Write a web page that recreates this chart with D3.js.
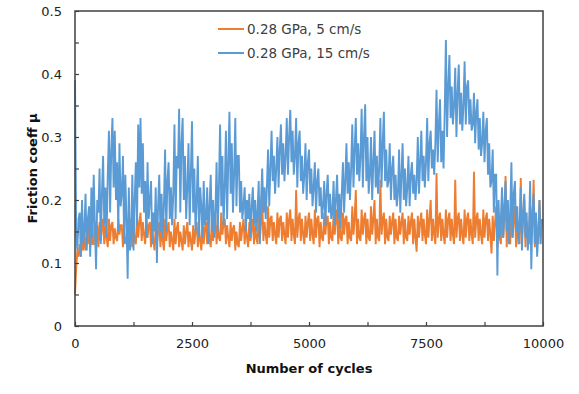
<!DOCTYPE html>
<html>
<head>
<meta charset="utf-8">
<script src="https://cdn.jsdelivr.net/npm/d3@7"></script>
<style>
  html, body { margin: 0; padding: 0; background: #fff; }
  svg { display: block; }
</style>
</head>
<body>
<svg id="chart" width="579" height="394"></svg>
<script>
// ---- data (one value every 25 cycles) ----
const stepCycles = 25;
const seriesNames = ["0.28 GPa, 5 cm/s", "0.28 GPa, 15 cm/s"];
const xTickLabels = [0, 2500, 5000, 7500, 10000];
const yTickLabels = [0, 0.1, 0.2, 0.3, 0.4, 0.5];

// 0.28 GPa, 15 cm/s (blue)
const blueVals = [
0.39,0.15,0.12,0.17, 0.18,0.11,0.20,0.13, 0.15,0.21,0.12,0.17, 0.19,0.11,0.22,0.14, 0.24,0.16,0.09,0.20,
0.18,0.25,0.13,0.21, 0.27,0.16,0.22,0.14, 0.24,0.31,0.18,0.28, 0.33,0.22,0.31,0.20, 0.26,0.15,0.29,0.19,
0.21,0.27,0.13,0.24, 0.17,0.075,0.22,0.12, 0.14,0.24,0.12,0.20, 0.26,0.16,0.32,0.22, 0.33,0.21,0.29,0.18,
0.23,0.14,0.26,0.17, 0.20,0.23,0.13,0.18, 0.15,0.22,0.10,0.19, 0.24,0.15,0.21,0.14, 0.19,0.28,0.15,0.23,
0.26,0.17,0.22,0.16, 0.21,0.32,0.17,0.27, 0.25,0.345,0.18,0.29, 0.33,0.20,0.27,0.17, 0.22,0.29,0.16,0.24,
0.325,0.18,0.25,0.15, 0.20,0.27,0.14,0.22, 0.19,0.14,0.23,0.16, 0.17,0.22,0.13,0.19, 0.24,0.15,0.20,0.14,
0.18,0.26,0.15,0.22, 0.32,0.19,0.27,0.16, 0.22,0.31,0.17,0.26, 0.34,0.21,0.29,0.18, 0.24,0.33,0.19,0.27,
0.27,0.18,0.23,0.17, 0.19,0.22,0.15,0.20, 0.17,0.21,0.14,0.19, 0.22,0.16,0.20,0.15, 0.18,0.23,0.13,0.20,
0.25,0.18,0.22,0.17, 0.22,0.28,0.19,0.25, 0.31,0.23,0.27,0.21, 0.25,0.30,0.22,0.28, 0.32,0.24,0.29,0.23,
0.27,0.33,0.24,0.30, 0.343,0.26,0.31,0.24, 0.27,0.33,0.22,0.29, 0.31,0.23,0.27,0.21, 0.24,0.29,0.20,0.26,
0.28,0.21,0.25,0.19, 0.22,0.26,0.18,0.23, 0.25,0.19,0.22,0.17, 0.19,0.23,0.16,0.21, 0.24,0.18,0.21,0.17,
0.18,0.23,0.16,0.20, 0.24,0.17,0.21,0.155, 0.21,0.26,0.18,0.23, 0.29,0.21,0.26,0.20, 0.25,0.32,0.22,0.28,
0.33,0.24,0.29,0.23, 0.27,0.345,0.22,0.30, 0.352,0.23,0.30,0.21, 0.24,0.30,0.20,0.26, 0.31,0.22,0.27,0.21,
0.25,0.33,0.22,0.29, 0.34,0.23,0.28,0.22, 0.23,0.29,0.20,0.25, 0.27,0.20,0.24,0.19, 0.21,0.28,0.18,0.24,
0.29,0.20,0.25,0.19, 0.22,0.27,0.19,0.24, 0.26,0.21,0.24,0.20, 0.23,0.30,0.21,0.26, 0.31,0.23,0.27,0.22,
0.26,0.33,0.23,0.29, 0.31,0.25,0.28,0.24, 0.29,0.375,0.26,0.32, 0.36,0.26,0.31,0.25, 0.34,0.454,0.30,0.38,
0.43,0.33,0.38,0.32, 0.35,0.41,0.30,0.37, 0.415,0.32,0.37,0.31, 0.35,0.42,0.32,0.38, 0.39,0.32,0.36,0.31,
0.32,0.37,0.29,0.34, 0.36,0.28,0.33,0.27, 0.29,0.34,0.26,0.31, 0.33,0.24,0.29,0.22, 0.23,0.28,0.18,0.24,
0.24,0.08,0.20,0.14, 0.17,0.22,0.14,0.19, 0.23,0.15,0.20,0.13, 0.18,0.26,0.14,0.21, 0.23,0.15,0.19,0.13,
0.16,0.22,0.12,0.18, 0.21,0.14,0.18,0.12, 0.15,0.23,0.09,0.18, 0.21,0.13,0.18,0.11, 0.15,0.20,0.13,0.17
];

// 0.28 GPa, 5 cm/s (orange)
const orangeVals = [
0.05,0.09,0.12,0.11, 0.13,0.11,0.14,0.12, 0.15,0.12,0.14,0.13, 0.16,0.125,0.15,0.13, 0.13,0.165,0.14,0.16,
0.125,0.165,0.135,0.155, 0.17,0.13,0.16,0.14, 0.125,0.17,0.135,0.16, 0.165,0.13,0.155,0.14, 0.135,0.17,0.145,0.16,
0.16,0.125,0.15,0.135, 0.13,0.165,0.14,0.155, 0.17,0.125,0.16,0.135, 0.13,0.175,0.14,0.165, 0.18,0.135,0.165,0.145,
0.13,0.17,0.14,0.16, 0.165,0.125,0.155,0.135, 0.12,0.16,0.13,0.15, 0.165,0.125,0.155,0.135, 0.12,0.17,0.135,0.155,
0.165,0.125,0.15,0.135, 0.12,0.17,0.13,0.155, 0.165,0.125,0.15,0.135, 0.12,0.16,0.13,0.15, 0.165,0.125,0.15,0.135,
0.12,0.16,0.13,0.15, 0.165,0.125,0.155,0.135, 0.12,0.17,0.13,0.155, 0.165,0.13,0.155,0.14, 0.125,0.17,0.135,0.16,
0.175,0.13,0.16,0.14, 0.135,0.18,0.145,0.165, 0.17,0.13,0.16,0.14, 0.125,0.165,0.135,0.155, 0.16,0.12,0.15,0.13,
0.125,0.165,0.135,0.155, 0.17,0.13,0.16,0.14, 0.125,0.165,0.135,0.155, 0.17,0.13,0.16,0.14, 0.13,0.175,0.14,0.165,
0.20,0.135,0.165,0.145, 0.13,0.19,0.14,0.17, 0.175,0.135,0.165,0.145, 0.13,0.18,0.14,0.17, 0.175,0.135,0.165,0.145,
0.13,0.18,0.14,0.17, 0.185,0.135,0.17,0.145, 0.13,0.216,0.14,0.17, 0.18,0.135,0.17,0.145, 0.13,0.175,0.14,0.165,
0.18,0.135,0.17,0.145, 0.13,0.185,0.14,0.17, 0.175,0.125,0.165,0.14, 0.135,0.18,0.145,0.17, 0.175,0.13,0.165,0.14,
0.135,0.18,0.145,0.17, 0.185,0.13,0.17,0.14, 0.135,0.18,0.145,0.17, 0.175,0.13,0.165,0.14, 0.135,0.19,0.145,0.17,
0.216,0.13,0.17,0.14, 0.135,0.185,0.145,0.17, 0.18,0.13,0.17,0.14, 0.135,0.19,0.145,0.17, 0.20,0.13,0.17,0.14,
0.135,0.232,0.145,0.17, 0.18,0.13,0.17,0.14, 0.135,0.175,0.145,0.165, 0.18,0.13,0.17,0.14, 0.135,0.175,0.145,0.165,
0.18,0.13,0.17,0.14, 0.135,0.175,0.145,0.165, 0.18,0.13,0.17,0.14, 0.118,0.175,0.14,0.165, 0.18,0.135,0.17,0.145,
0.13,0.185,0.14,0.17, 0.20,0.135,0.17,0.145, 0.13,0.243,0.14,0.17, 0.18,0.135,0.17,0.145, 0.13,0.185,0.14,0.17,
0.18,0.135,0.17,0.145, 0.13,0.232,0.14,0.17, 0.18,0.135,0.17,0.145, 0.13,0.185,0.14,0.17, 0.18,0.135,0.17,0.145,
0.13,0.245,0.14,0.17, 0.18,0.135,0.17,0.145, 0.13,0.185,0.14,0.17, 0.18,0.135,0.17,0.145, 0.115,0.175,0.135,0.165,
0.19,0.125,0.17,0.14, 0.13,0.20,0.14,0.17, 0.238,0.125,0.17,0.14, 0.13,0.20,0.14,0.17, 0.19,0.125,0.165,0.14,
0.13,0.235,0.14,0.17, 0.20,0.125,0.165,0.14, 0.13,0.19,0.14,0.165, 0.232,0.125,0.17,0.14, 0.13,0.20,0.14,0.17
];

// ---- layout ----
const svg = d3.select("#chart");
const margin = {left: 75, right: 36, top: 11, bottom: 68};
const W = 579, H = 394;
const x = d3.scaleLinear().domain([0, 10000]).range([margin.left, W - margin.right]);
const y = d3.scaleLinear().domain([0, 0.5]).range([H - margin.bottom, margin.top]);

const toPts = vals => vals.map((v, i) => [i * stepCycles, v]);
const line = d3.line().x(d => x(d[0])).y(d => y(d[1]));
const font = "'DejaVu Sans', Verdana, sans-serif";

// series (blue drawn last, on top)
svg.append("path").datum(toPts(orangeVals)).attr("d", line)
  .attr("fill", "none").attr("stroke", "#ED7D31").attr("stroke-width", 1.9)
  .attr("stroke-linejoin", "miter");
svg.append("path").datum(toPts(blueVals)).attr("d", line)
  .attr("fill", "none").attr("stroke", "#5B9BD5").attr("stroke-width", 1.9)
  .attr("stroke-linejoin", "miter");

// frame
const axisColor = "#404040";
svg.append("rect")
  .attr("x", x(0)).attr("y", y(0.5))
  .attr("width", x(10000) - x(0)).attr("height", y(0) - y(0.5))
  .attr("fill", "none").attr("stroke", axisColor).attr("stroke-width", 1.5);

// y axis
const yAxis = d3.axisLeft(y)
  .tickValues(d3.range(0, 0.5001, 0.05))
  .tickSize(-4)
  .tickPadding(13)
  .tickFormat(d => {
    const r = Math.round(d * 100) / 100;
    return yTickLabels.some(t => Math.abs(t - r) < 1e-9) ? (r === 0 ? "0" : d3.format(".1f")(r)) : "";
  });
const gy = svg.append("g").attr("transform", `translate(${x(0)},0)`).call(yAxis);
gy.select(".domain").remove();
gy.selectAll(".tick line").attr("stroke", axisColor).attr("stroke-width", 1.2);
gy.selectAll(".tick text").attr("font-family", font).attr("font-size", 13).attr("fill", "#222");

// x axis
const xAxis = d3.axisBottom(x)
  .tickValues(d3.range(0, 10001, 1250))
  .tickSize(-4)
  .tickPadding(13)
  .tickFormat(d => xTickLabels.includes(d) ? String(d) : "");
const gx = svg.append("g").attr("transform", `translate(0,${y(0)})`).call(xAxis);
gx.select(".domain").remove();
gx.selectAll(".tick line").attr("stroke", axisColor).attr("stroke-width", 1.2);
gx.selectAll(".tick text").attr("font-family", font).attr("font-size", 13).attr("fill", "#222");

// axis titles
svg.append("text")
  .attr("x", (x(0) + x(10000)) / 2).attr("y", 373)
  .attr("text-anchor", "middle")
  .attr("font-family", font).attr("font-size", 13).attr("font-weight", "bold").attr("fill", "#111")
  .text("Number of cycles");
svg.append("text")
  .attr("transform", `translate(37,${(y(0) + y(0.5)) / 2}) rotate(-90)`)
  .attr("text-anchor", "middle")
  .attr("font-family", font).attr("font-size", 13).attr("font-weight", "bold").attr("fill", "#111")
  .text("Friction coeff \u03bc");

// legend
const legColors = ["#ED7D31", "#5B9BD5"];
const leg = svg.append("g");
seriesNames.forEach((name, i) => {
  const ly = 29 + i * 24;
  leg.append("line").attr("x1", 218).attr("x2", 244).attr("y1", ly).attr("y2", ly)
    .attr("stroke", legColors[i]).attr("stroke-width", 2);
  leg.append("text").attr("x", 247).attr("y", ly).attr("dy", "0.35em")
    .attr("font-family", font).attr("font-size", 13.5).attr("fill", "#404040")
    .text(name);
});
</script>
</body>
</html>
